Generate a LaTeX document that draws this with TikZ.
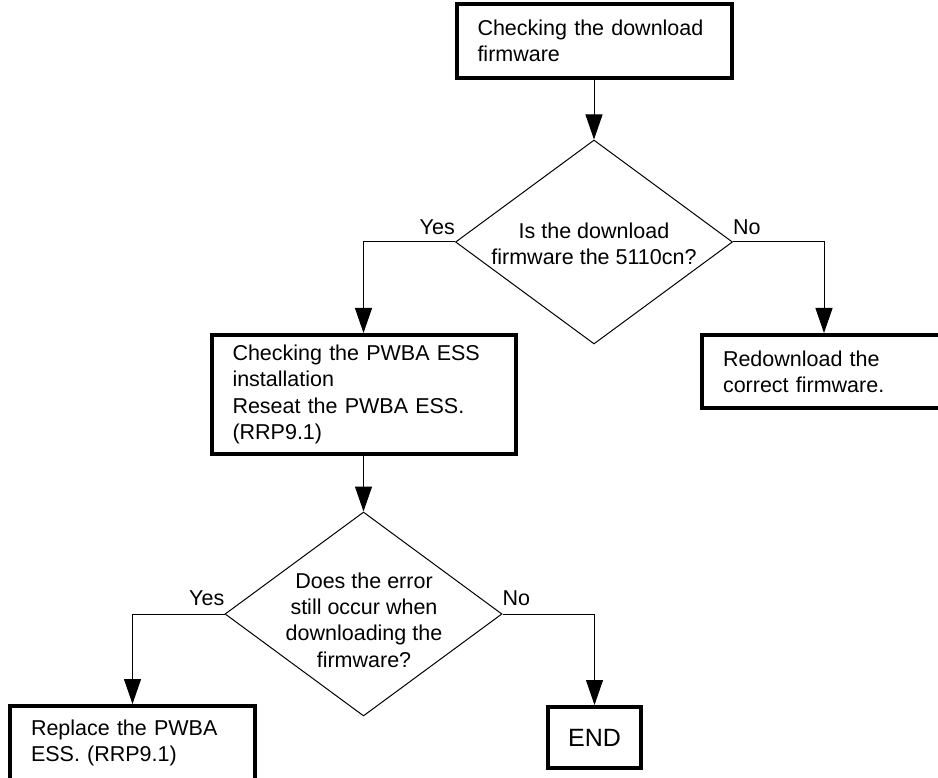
\documentclass[tikz,border=0pt]{standalone}
\usepackage{fontspec}
\setmainfont{Liberation Sans}
\usetikzlibrary{arrows.meta,shapes.geometric}
\begin{document}
\begin{tikzpicture}[x=1pt,y=-1pt,
  every node/.style={font=\fontsize{21.5}{26.3}\selectfont},
  box/.style={draw, line width=4pt, rectangle, inner sep=0pt, align=left},
  dia/.style={draw, line width=1pt, diamond, minimum width=277pt, minimum height=204pt, inner sep=0pt},
  conn/.style={line width=1pt, -{Triangle[length=25pt,width=17pt]}},
  lbl/.style={inner sep=0pt}]
\useasboundingbox (0,0) rectangle (938,778);
\clip (0,0) rectangle (938,778);

% boxes
\node[box, minimum width=275pt, minimum height=74pt, text width=233pt] (b1) at (594,41) {Checking the download\\firmware};
\node[box, minimum width=304pt, minimum height=119pt, text width=262pt] (b2) at (363.5,394.5) {Checking the PWBA ESS\\installation\\Reseat the PWBA ESS.\\(RRP9.1)};
\node[box, minimum width=244pt, minimum height=73pt, text width=202pt] (b3) at (824,371.5) {Redownload the\\correct firmware.};
\node[box, minimum width=245pt, minimum height=74pt, text width=203pt] (b4) at (132.5,743) {Replace the PWBA\\ESS. (RRP9.1)};
\node[box, align=center, minimum width=93pt, minimum height=61pt, font=\fontsize{25}{30}\selectfont] (end) at (594.5,737.5) {END};

% decisions
\node[dia] (d1) at (594,242) {};
\node[align=center, inner sep=0pt] (t1) at (594,243.5) {Is the download\\firmware the 5110cn?};
\node[dia] (d2) at (363.5,614) {};
\node[align=center, inner sep=0pt] (t2) at (364,620) {Does the error\\still occur when\\downloading the\\firmware?};

% connectors
\draw[conn] (b1.south) -- (d1.north);
\draw[conn] (d1.west) -| (b2.north);
\draw[conn] (d1.east) -| (b3.north);
\draw[conn] (b2.south) -- (d2.north);
\draw[conn] (d2.west) -| (b4.north);
\draw[conn] (d2.east) -| (end.north);

% labels
\node[lbl, anchor=south east] (y1) at ([yshift=7pt]d1.west) {Yes};
\node[lbl, anchor=south west] (n1) at ([yshift=7pt]d1.east) {No};
\node[lbl, anchor=south east] (y2) at ([yshift=8pt]d2.west) {Yes};
\node[lbl, anchor=south west] (n2) at ([yshift=8pt]d2.east) {No};
\end{tikzpicture}
\end{document}
